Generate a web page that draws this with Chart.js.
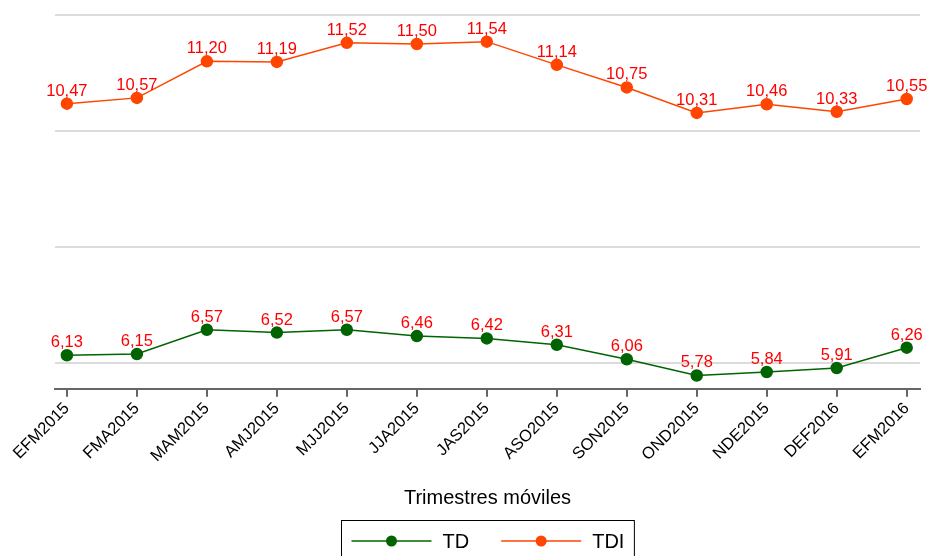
<!DOCTYPE html>
<html lang="es">
<head>
<meta charset="UTF-8">
<title>TD y TDI - Trimestres móviles</title>
<script src="https://cdn.jsdelivr.net/npm/chart.js"></script>
<style>
  body { margin: 0; background: #fff; }
  #wrap { width: 929px; height: 556px; position: relative; }
</style>
</head>
<body>
<div id="wrap"><canvas id="chart"></canvas></div>
<script>
const periodos = ['EFM2015', 'FMA2015', 'MAM2015', 'AMJ2015', 'MJJ2015', 'JJA2015', 'JAS2015',
                  'ASO2015', 'SON2015', 'OND2015', 'NDE2015', 'DEF2016', 'EFM2016'];
const td  = [6.13, 6.15, 6.57, 6.52, 6.57, 6.46, 6.42, 6.31, 6.06, 5.78, 5.84, 5.91, 6.26];
const tdi = [10.47, 10.57, 11.20, 11.19, 11.52, 11.50, 11.54, 11.14, 10.75, 10.31, 10.46, 10.33, 10.55];
const yTicks = [6, 8, 10, 12];

const FONT = 'Arial, "Liberation Sans", sans-serif';

// numbers above each point, comma decimals
const valueLabels = {
    id: 'valueLabels',
    afterDatasetsDraw(chart) {
        const ctx = chart.ctx;
        ctx.save();
        ctx.font = '16.5px ' + FONT;
        ctx.fillStyle = '#ff0000';
        ctx.textAlign = 'center';
        ctx.textBaseline = 'alphabetic';
        chart.data.datasets.forEach((ds, i) => {
            chart.getDatasetMeta(i).data.forEach((pt, j) => {
                ctx.fillText(ds.data[j].y.toFixed(2).replace('.', ','), pt.x, pt.y - 8);
            });
        });
        ctx.restore();
    }
};

// boxed legend under the axis title
const boxLegend = {
    id: 'boxLegend',
    afterDraw(chart) {
        const ctx = chart.ctx;
        const area = chart.chartArea;
        const lineW = 80, gapText = 11, gapItem = 32, pad = 10;
        const y = 541;
        ctx.save();
        ctx.font = '20px ' + FONT;
        const items = chart.data.datasets.map(ds => ({ ds, w: ctx.measureText(ds.label).width }));
        let total = items.reduce((s, it) => s + lineW + gapText + it.w, 0) + gapItem * (items.length - 1);
        const boxW = total + pad * 2;
        const boxX = Math.round((area.left + area.right) / 2 - boxW / 2) + 0.5;
        ctx.strokeStyle = '#000';
        ctx.lineWidth = 1;
        ctx.strokeRect(boxX, 520.5, boxW, 60);
        let x = boxX + pad;
        items.forEach(it => {
            ctx.strokeStyle = it.ds.borderColor;
            ctx.lineWidth = 1.5;
            ctx.beginPath();
            ctx.moveTo(x, y);
            ctx.lineTo(x + lineW, y);
            ctx.stroke();
            ctx.fillStyle = it.ds.pointBackgroundColor;
            ctx.beginPath();
            ctx.arc(x + lineW / 2, y, 5.5, 0, Math.PI * 2);
            ctx.fill();
            ctx.fillStyle = '#000';
            ctx.textAlign = 'left';
            ctx.textBaseline = 'middle';
            ctx.fillText(it.ds.label, x + lineW + gapText, y + 1);
            x += lineW + gapText + it.w + gapItem;
        });
        ctx.restore();
    }
};

document.addEventListener('DOMContentLoaded', function () {
    const ctx = document.getElementById('chart').getContext('2d');
    new Chart(ctx, {
        type: 'line',
        data: {
            datasets: [
                {
                    label: 'TD',
                    data: td.map((v, i) => ({ x: i, y: v })),
                    borderColor: '#006400',
                    backgroundColor: '#006400',
                    pointBackgroundColor: '#006400',
                    pointBorderColor: '#006400',
                    borderWidth: 1.5,
                    pointRadius: 5.5,
                    tension: 0
                },
                {
                    label: 'TDI',
                    data: tdi.map((v, i) => ({ x: i, y: v })),
                    borderColor: '#ff4500',
                    backgroundColor: '#ff4500',
                    pointBackgroundColor: '#ff4500',
                    pointBorderColor: '#ff4500',
                    borderWidth: 1.5,
                    pointRadius: 5.5,
                    tension: 0
                }
            ]
        },
        options: {
            responsive: true,
            maintainAspectRatio: false,
            animation: false,
            layout: { padding: { left: 55, right: 9, top: 15, bottom: 46 } },
            plugins: {
                legend: { display: false },
                tooltip: { enabled: false }
            },
            scales: {
                x: {
                    type: 'linear',
                    min: -0.17,
                    max: 12.19,
                    afterBuildTicks: s => { s.ticks = periodos.map((_, i) => ({ value: i })); },
                    ticks: {
                        autoSkip: false,
                        minRotation: 45,
                        maxRotation: 45,
                        padding: 2,
                        color: '#000',
                        font: { size: 16.5, family: FONT },
                        callback: v => periodos[v]
                    },
                    grid: { drawOnChartArea: false, drawTicks: true, tickLength: 8, color: '#666', lineWidth: 2 },
                    border: { display: true, color: '#666', width: 2 },
                    title: {
                        display: true,
                        text: 'Trimestres móviles',
                        color: '#000',
                        font: { size: 20, family: FONT },
                        padding: { top: 18, bottom: 0 }
                    }
                },
                y: {
                    min: 5.55,
                    max: 12,
                    afterBuildTicks: s => { s.ticks = yTicks.map(v => ({ value: v })); },
                    ticks: { display: false },
                    grid: { color: '#dcdcdc', lineWidth: 2, drawTicks: false },
                    border: { display: false }
                }
            }
        },
        plugins: [valueLabels, boxLegend]
    });
});
</script>
</body>
</html>
